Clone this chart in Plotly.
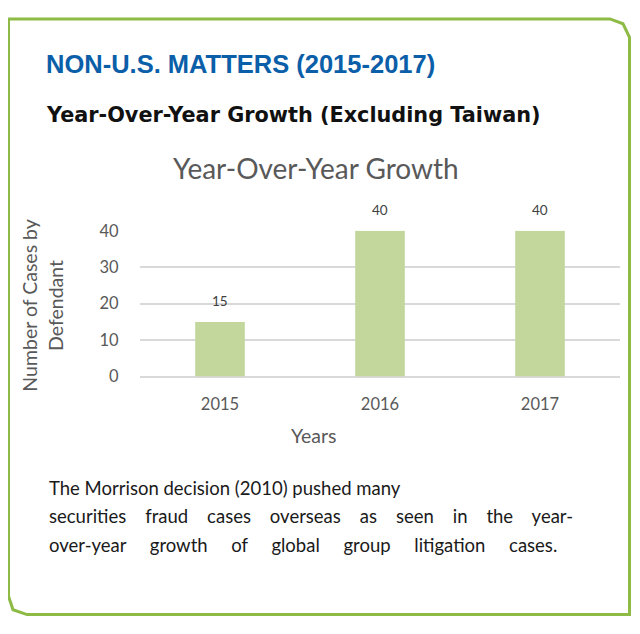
import plotly.graph_objects as go

# ── Dados ─────────────────────────────────────────────────────────────────────
years = ["2015", "2016", "2017"]
cases = [15, 40, 40]
y_ticks = [0, 10, 20, 30, 40]

HEADER = "NON-U.S. MATTERS (2015-2017)"
SUBTITLE = "Year-Over-Year Growth (Excluding Taiwan)"
CHART_TITLE = "Year-Over-Year Growth"
X_TITLE = "Years"
Y_TITLE = "Number of Cases by<br>Defendant"
NOTE_LINES = [
    "The Morrison decision (2010) pushed many",
    "securities fraud cases overseas as seen in the year-",
    "over-year growth of global group litigation cases.",
]
NOTE_PAD = [0, 3, 4]   # espaços extras entre palavras (texto justificado)

W, H = 640, 634
OFF = 8                # margem do <body> no navegador
GRAY = "#595959"
BORDER = "#8dbb45"
BAR = "#c3d69b"
BODY_FONT = "Lato, 'Open Sans', sans-serif"


def px(x):
    return (x - OFF) / W


def py(y):
    return 1 - (y - OFF) / H


fig = go.Figure()
fig.add_trace(go.Bar(x=years, y=cases, marker=dict(color=BAR, line_width=0),
                     showlegend=False, hoverinfo="x+y"))

# rótulos de dados acima das barras (x = índice da categoria)
for i, v in enumerate(cases):
    fig.add_annotation(x=i, y=v, text=str(v), showarrow=False, yshift=21,
                       yanchor="middle",
                       font=dict(family=BODY_FONT, size=13.5, color="#404040"))

fig.update_layout(
    width=W, height=H, autosize=False,
    margin=dict(l=0, r=0, t=0, b=0),
    plot_bgcolor="white", paper_bgcolor="white",
    bargap=0.69,
    xaxis=dict(type="category", domain=[px(140), px(620)],
               range=[-0.5, len(years) - 0.5],
               showgrid=False, showline=False,
               ticks="outside", ticklen=13, tickcolor="rgba(0,0,0,0)",
               tickfont=dict(family=BODY_FONT, size=16.5, color=GRAY)),
    yaxis=dict(domain=[py(378.3), py(227.7)], range=[0, 40],
               tickvals=y_ticks, showline=False,
               gridcolor="#d9d9d9", gridwidth=1.5,
               zeroline=True, zerolinecolor="#d9d9d9", zerolinewidth=1.5,
               ticks="outside", ticklen=17, tickcolor="rgba(0,0,0,0)",
               tickfont=dict(family=BODY_FONT, size=16.5, color=GRAY)),
)

# moldura verde com cantos chanfrados
corners = [(8.5, 9), (610, 9), (623, 14), (629.5, 28), (629.5, 624),
           (27, 624), (13, 619), (8.5, 605)]
path = "M " + " L ".join(f"{px(a)} {py(b)}" for a, b in corners) + " Z"
fig.add_shape(type="path", xref="paper", yref="paper", path=path,
              line=dict(color=BORDER, width=3), layer="below")

fig.add_annotation(text=f"<b>{HEADER}</b>", xref="paper", yref="paper",
                   x=px(44), y=py(55.5), xanchor="left", yanchor="middle",
                   showarrow=False,
                   font=dict(family="'Liberation Sans Narrow', Arial, sans-serif",
                             size=25.5, color="#0b5ea8"))
fig.add_annotation(text=f"<b>{SUBTITLE}</b>", xref="paper", yref="paper",
                   x=px(44), y=py(108), xanchor="left", yanchor="middle",
                   showarrow=False,
                   font=dict(family="'DejaVu Sans', sans-serif",
                             size=20.8, color="#111111"))
fig.add_annotation(text=CHART_TITLE, xref="paper", yref="paper",
                   x=px(316), y=py(163), xanchor="center", yanchor="middle",
                   showarrow=False, font=dict(family=BODY_FONT, size=28, color=GRAY))
fig.add_annotation(text=X_TITLE, xref="paper", yref="paper",
                   x=px(314), y=py(439), xanchor="center", yanchor="middle",
                   showarrow=False, font=dict(family=BODY_FONT, size=19.5, color=GRAY))
fig.add_annotation(text=Y_TITLE, xref="paper", yref="paper",
                   x=px(42), y=py(305), xanchor="center", yanchor="middle",
                   textangle=-90, showarrow=False,
                   font=dict(family=BODY_FONT, size=19.5, color=GRAY))

# texto explicativo, uma anotação por linha
for i, (line, pad) in enumerate(zip(NOTE_LINES, NOTE_PAD)):
    txt = line.replace(" ", " " + "\u00a0" * pad)
    fig.add_annotation(text=txt, xref="paper", yref="paper",
                       x=px(47), y=py(493 + 29.5 * i), xanchor="left", yanchor="middle",
                       align="left", showarrow=False,
                       font=dict(family=BODY_FONT, size=18.5, color="#1a1a1a"))

fig.write_html("out.html")
